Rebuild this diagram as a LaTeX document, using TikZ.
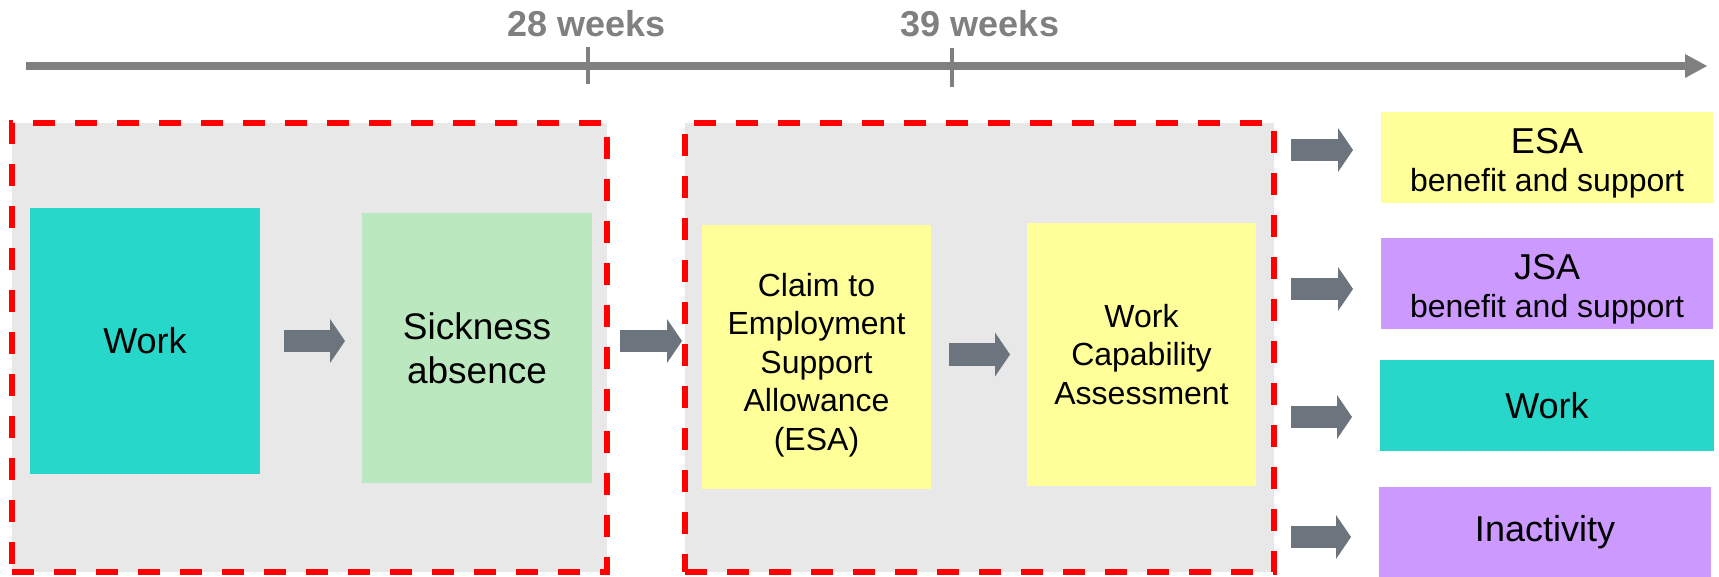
\documentclass[tikz,border=0pt]{standalone}
\usepackage{fontspec}
\setmainfont{Liberation Sans}
\usetikzlibrary{arrows.meta}

\definecolor{bggrey}{RGB}{232,232,232}
\definecolor{workteal}{RGB}{38,215,202}
\definecolor{sickgreen}{RGB}{188,232,192}
\definecolor{esayellow}{RGB}{255,255,153}
\definecolor{jsapurple}{RGB}{204,153,255}
\definecolor{flowgrey}{RGB}{108,116,126}
\definecolor{linegrey}{RGB}{128,128,128}

\begin{document}
\begin{tikzpicture}[x=1pt,y=-1pt,
    stage/.style={draw=red, fill=bggrey, line width=5.5pt, dash pattern=on 22pt off 20pt, outer sep=0pt},
    box/.style={inner sep=0pt, outer sep=0pt, align=center, text=black},
    bigtext/.style={font=\fontsize{36}{44}\selectfont},
    smalltext/.style={font=\fontsize{32}{38.5}\selectfont},
    flow/.style={draw=flowgrey, line width=22pt, -{Triangle[length=15pt,width=44pt,line width=0pt]}},
    weeks/.style={text=linegrey, font=\fontsize{36}{40}\selectfont\bfseries},
    tick/.style={draw=linegrey, line width=3.5pt}]

    \useasboundingbox (0,0) rectangle (1719,577);

    % time line
    \coordinate (t0) at (26,66);
    \coordinate (t1) at (1707,66);
    \draw[draw=linegrey, line width=8pt, -{Triangle[length=22pt,width=24pt,line width=0pt]}] (t0) -- (t1);
    \draw[tick] (588,47) -- (588,84);
    \draw[tick] (952,48) -- (952,87);
    \node[weeks] (w28) at (587,24) {28 weeks};
    \node[weeks] (w39) at (980,24) {39 weeks};

    % the two stages
    \node[stage, minimum width=595pt, minimum height=449pt] (stage1) at (309.5,347.5) {};
    \node[stage, minimum width=589pt, minimum height=449pt] (stage2) at (979.5,347.5) {};

    \node[box, fill=workteal, minimum width=230pt, minimum height=266pt, bigtext] (work1) at (145,341) {Work};
    \node[box, fill=sickgreen, minimum width=230pt, minimum height=270pt, font=\fontsize{37}{44}\selectfont] (sick) at (477,348) {Sickness\\absence};
    \node[box, fill=esayellow, minimum width=229pt, minimum height=264pt, smalltext, text height=193pt] (claim) at (816.5,357) {Claim to\\Employment\\Support\\Allowance\\(ESA)};
    \node[box, fill=esayellow, minimum width=229pt, minimum height=263pt, smalltext] (wca) at (1141.5,354.5) {Work\\Capability\\Assessment};

    % outcomes
    \node[box, fill=esayellow, minimum width=332pt, minimum height=91pt, smalltext, text height=75pt] (esa) at (1547,157.5) {{\fontsize{36}{39}\selectfont ESA}\\benefit and support};
    \node[box, fill=jsapurple, minimum width=332pt, minimum height=91pt, smalltext, text height=75pt] (jsa) at (1547,283.5) {{\fontsize{36}{39}\selectfont JSA}\\benefit and support};
    \node[box, fill=workteal, minimum width=334pt, minimum height=91pt, bigtext] (work2) at (1547,405.5) {Work};
    \node[box, fill=jsapurple, minimum width=332pt, minimum height=91pt, bigtext] (inact) at (1545,532.5) {Inactivity};

    \draw[flow, shorten <=24pt, shorten >=17pt] (work1.east) -- (work1.east -| sick.west);
    \draw[flow, shorten <=13pt, shorten >=3pt] (work1.east -| stage1.east) -- (work1.east -| stage2.west);
    \draw[flow, shorten <=18pt, shorten >=17pt] (wca.west -| claim.east) -- (wca.west);

    \draw[flow, shorten <=17pt, shorten >=28pt] (stage2.east |- 0,150) -- (esa.west |- 0,150);
    \draw[flow, shorten <=17pt, shorten >=28pt] (stage2.east |- 0,289) -- (jsa.west |- 0,289);
    \draw[flow, shorten <=17pt, shorten >=28pt] (stage2.east |- 0,417) -- (work2.west |- 0,417);
    \draw[flow, shorten <=17pt, shorten >=28pt] (stage2.east |- 0,537) -- (inact.west |- 0,537);

\end{tikzpicture}
\end{document}
